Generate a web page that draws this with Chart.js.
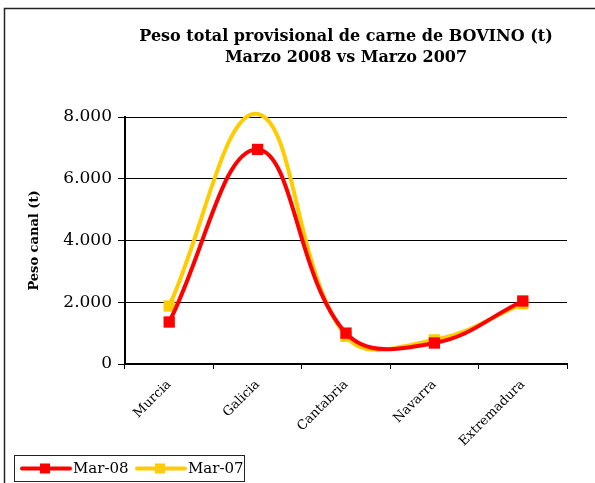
<!DOCTYPE html>
<html><head><meta charset="utf-8">
<script src="https://cdn.jsdelivr.net/npm/chart.js@4/dist/chart.umd.min.js"></script>
<style>html,body{margin:0;padding:0;background:#fff;}#wrap{width:595px;height:483px;position:relative;}</style>
</head><body><div id="wrap"><canvas id="c" width="595" height="483"></canvas></div>
<script>
const categories = ["Murcia", "Galicia", "Cantabria", "Navarra", "Extremadura"];
const mar08 = [1360, 6950, 1000, 680, 2040];
const mar07 = [1880, 8100, 900, 780, 1950];
const seriesNames = ["Mar-08", "Mar-07"];
const titleLines = ["Peso total provisional de carne de BOVINO (t)", "Marzo 2008 vs Marzo 2007"];
const yTitle = "Peso canal (t)";
const RED = "#FF0000", YEL = "#FFCC00";
const FONT = "'DejaVu Serif', 'Liberation Serif', serif";

const deco = {
  id: 'deco',
  beforeDraw(chart) {
    const ctx = chart.ctx;
    ctx.save();
    ctx.fillStyle = '#fff';
    ctx.fillRect(0, 0, chart.width, chart.height);
    ctx.strokeStyle = '#222';
    ctx.lineWidth = 1.5;
    ctx.beginPath();
    ctx.moveTo(4.5, 483); ctx.lineTo(4.5, 8.5); ctx.lineTo(595, 8.5);
    ctx.stroke();
    ctx.restore();
  },
  afterDraw(chart) {
    const ctx = chart.ctx;
    ctx.save();
    ctx.fillStyle = '#000';
    ctx.textAlign = 'center';
    ctx.textBaseline = 'middle';
    ctx.font = "bold 16px " + FONT;
    ctx.fillText(titleLines[0], 346, 37);
    ctx.fillText(titleLines[1], 346, 58);
    // legend
    const lx = 14.5, ly = 455.5, lw = 230, lh = 26;
    ctx.strokeStyle = '#222'; ctx.lineWidth = 1;
    ctx.strokeRect(lx, ly, lw, lh);
    const items = [{n: seriesNames[0], c: RED, x: 20}, {n: seriesNames[1], c: YEL, x: 135}];
    const cy = ly + lh / 2;
    items.forEach(it => {
      ctx.strokeStyle = it.c; ctx.lineWidth = 4; ctx.lineCap = 'round';
      ctx.beginPath(); ctx.moveTo(it.x + 2, cy); ctx.lineTo(it.x + 50, cy); ctx.stroke();
      ctx.fillStyle = it.c;
      ctx.fillRect(it.x + 20, cy - 5, 10, 10);
      ctx.fillStyle = '#000';
      ctx.textAlign = 'left';
      ctx.font = "15px " + FONT;
      ctx.fillText(it.n, it.x + 53, cy + 1);
    });
    ctx.restore();
  }
};

new Chart(document.getElementById('c'), {
  type: 'line',
  data: {
    labels: categories,
    datasets: [
      { label: seriesNames[0], data: mar08, borderColor: RED, backgroundColor: RED, borderWidth: 4,
        pointStyle: 'rect', pointRadius: 8, pointBackgroundColor: RED, pointBorderWidth: 0, tension: 0.4, clip: false },
      { label: seriesNames[1], data: mar07, borderColor: YEL, backgroundColor: YEL, borderWidth: 4,
        pointStyle: 'rect', pointRadius: [8, 0, 8, 8, 8], pointBackgroundColor: YEL, pointBorderWidth: 0, tension: 0.4, clip: false }
    ]
  },
  options: {
    responsive: false,
    animation: false,
    layout: { padding: { left: 27, top: 117, right: 28, bottom: 0 } },
    plugins: { legend: { display: false }, title: { display: false }, tooltip: { enabled: false } },
    scales: {
      x: {
        offset: true,
        grid: { offset: true, drawOnChartArea: false, drawTicks: true, tickLength: 5, color: '#000', lineWidth: 1 },
        border: { color: '#000', width: 2 },
        ticks: { color: '#000', font: { family: FONT, size: 13 }, maxRotation: 45, minRotation: 45, padding: 8 },
        afterFit(s) { s.height = 119; }
      },
      y: {
        min: 0, max: 8000,
        grid: { color: '#000', lineWidth: 1, tickLength: 7, drawTicks: true },
        border: { color: '#000', width: 2 },
        ticks: { stepSize: 2000, color: '#000', font: { family: FONT, size: 17 }, padding: 6,
          callback: v => v.toLocaleString('de-DE') },
        title: { display: true, text: yTitle, color: '#000', font: { family: FONT, size: 13, weight: 'bold' }, padding: { top: 0, bottom: 0 } },
        afterFit(s) { s.width = 98; }
      }
    }
  },
  plugins: [deco]
});
</script>
</body></html>
